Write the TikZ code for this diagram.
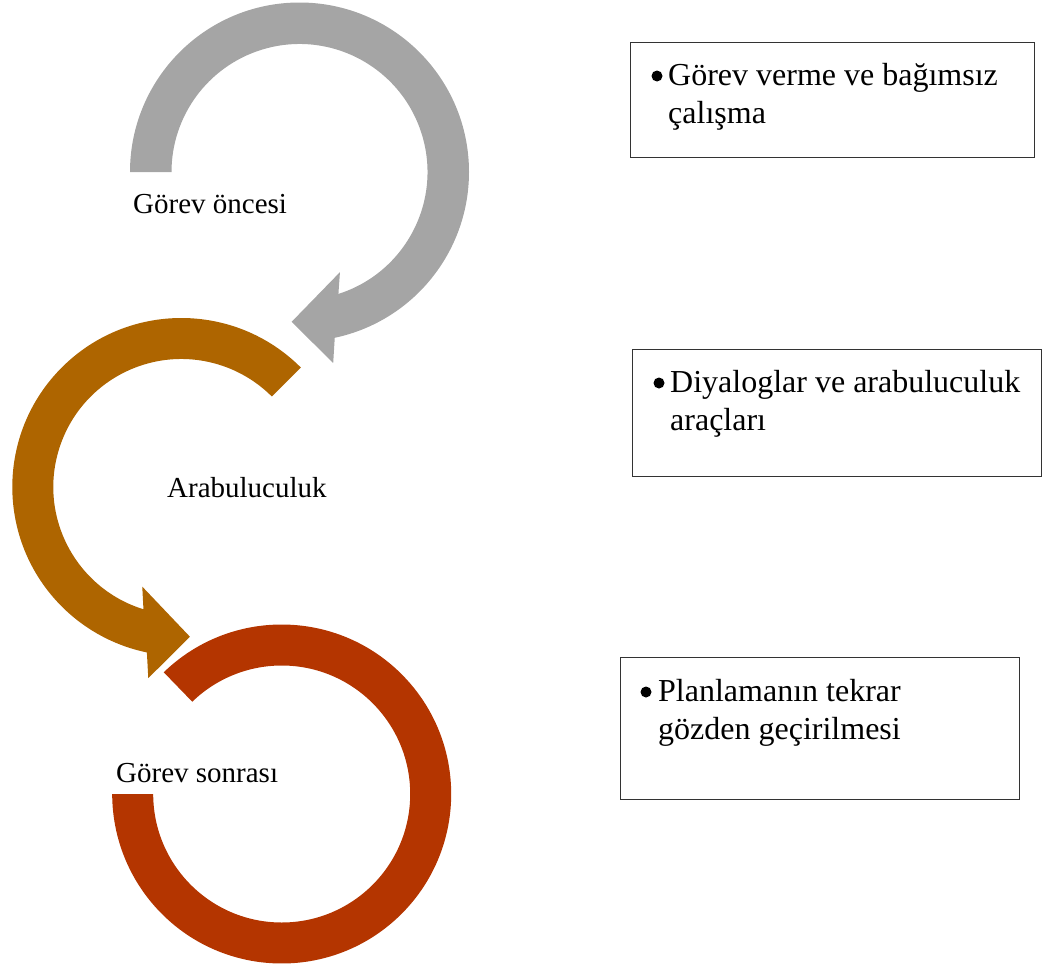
\documentclass[tikz,border=0pt]{standalone}
\usepackage{fontspec}
\setmainfont{Liberation Serif}
\definecolor{stepgray}{HTML}{A5A5A5}
\definecolor{stepbrown}{HTML}{AE6500}
\definecolor{stepred}{HTML}{B43500}
\begin{document}
\begin{tikzpicture}[x=1pt,y=-1pt,
  steplabel/.style={inner sep=0pt, anchor=base west, font=\fontsize{29}{33}\selectfont},
  boxline/.style={inner sep=0pt, anchor=base west, font=\fontsize{32}{36}\selectfont},
  bulletdot/.style={circle, fill=black, inner sep=0pt, minimum size=11pt},
  notebox/.style={draw=black!80, line width=1pt, inner sep=0pt}]
\useasboundingbox (0,0) rectangle (1045,969);

% curved block arrow 1: clockwise over the top
\begin{scope}[shift={(299.5,172)}]
  \fill[stepgray] (180:169.5) arc[start angle=180, end angle=438, radius=169.5]
    -- (440:194) -- (453:150) -- (428:108) -- (432.3:128)
    arc[start angle=432.3, end angle=180, radius=128] -- cycle;
\end{scope}

% curved block arrow 2: counter-clockwise round the left
\begin{scope}[shift={(181.3,487)}]
  \fill[stepbrown] (315:169) arc[start angle=315, end angle=101.75, radius=169]
    -- (99.8:194) -- (86.7:150) -- (111.4:107) -- (107.2:128)
    arc[start angle=107.2, end angle=315, radius=128] -- cycle;
\end{scope}

% open ring 3
\begin{scope}[shift={(281.7,794)}]
  \fill[stepred] (225.9:169.5) arc[start angle=225.9, end angle=540, radius=169.5]
    -- (540:128.5) arc[start angle=540, end angle=225.9, radius=128.5] -- cycle;
\end{scope}

% stage labels
\node[steplabel] (s1) at (133,213) {Görev öncesi};
\node[steplabel] (s2) at (167,497) {Arabuluculuk};
\node[steplabel] (s3) at (116,782) {Görev sonrası};

% note boxes
\node[notebox, minimum width=404pt, minimum height=115pt] (n1) at (832,99.5) {};
\node[notebox, minimum width=409pt, minimum height=127pt] (n2) at (836.5,412.5) {};
\node[notebox, minimum width=399pt, minimum height=142pt] (n3) at (819.5,728) {};

\node[bulletdot] (n1b) at (657,76) {};
\node[boxline] (n1a) at (668,85) {Görev verme ve bağımsız};
\node[boxline] (n1c) at (668,123) {çalışma};

\node[bulletdot] (n2b) at (659,383) {};
\node[boxline] (n2a) at (670,392) {Diyaloglar ve arabuluculuk};
\node[boxline] (n2c) at (670,430) {araçları};

\node[bulletdot] (n3b) at (646,692) {};
\node[boxline] (n3a) at (658,701) {Planlamanın tekrar};
\node[boxline] (n3c) at (658,739) {gözden geçirilmesi};
\end{tikzpicture}
\end{document}
